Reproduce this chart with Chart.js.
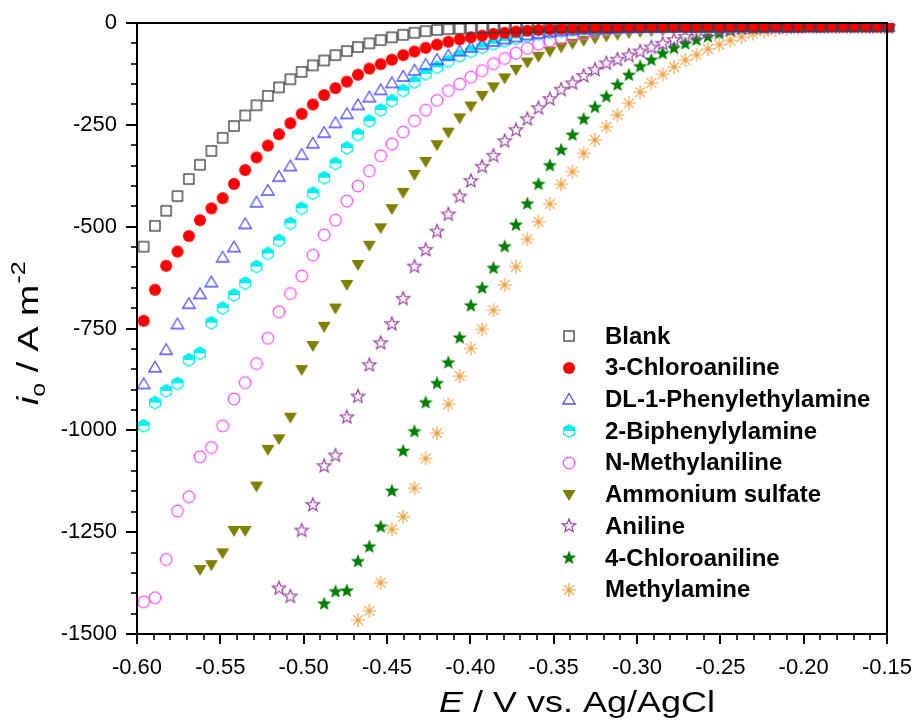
<!DOCTYPE html>
<html><head><meta charset="utf-8">
<script src="https://cdn.jsdelivr.net/npm/chart.js@4.4.1/dist/chart.umd.min.js"></script>
<style>html,body{margin:0;padding:0;background:#fff;}#wrap{width:914px;height:720px;}</style>
</head><body><div id="wrap"><canvas id="c" width="914" height="720"></canvas></div>
<script>
const E = [-0.5960,-0.5892,-0.5825,-0.5757,-0.5689,-0.5622,-0.5554,-0.5486,-0.5418,-0.5351,
-0.5283,-0.5215,-0.5148,-0.5080,-0.5012,-0.4945,-0.4877,-0.4809,-0.4741,-0.4674,
-0.4606,-0.4538,-0.4471,-0.4403,-0.4335,-0.4268,-0.4200,-0.4132,-0.4064,-0.3997,
-0.3929,-0.3861,-0.3794,-0.3726,-0.3658,-0.3591,-0.3523,-0.3455,-0.3387,-0.3320,
-0.3252,-0.3184,-0.3117,-0.3049,-0.2981,-0.2914,-0.2846,-0.2778,-0.2710,-0.2643,
-0.2575,-0.2507,-0.2440,-0.2372,-0.2304,-0.2237,-0.2169,-0.2101,-0.2033,-0.1966,
-0.1898,-0.1830,-0.1763,-0.1695,-0.1627,-0.1560,-0.1492];

const names = ["Blank","3-Chloroaniline","DL-1-Phenylethylamine","2-Biphenylylamine","N-Methylaniline","Ammonium sulfate","Aniline","4-Chloroaniline","Methylamine"];

const blank = [-549,-498,-461,-425,-383,-348,-314,-282,-253,-227,
-202,-179,-158,-138,-120,-104,-92,-79,-69,-59,
-50,-42,-35,-29,-24,-20,-17,-15,-14,-13,
-12,-12,-11,-11,-11,-10,-10,-10,-10,-10,
-10,-10,-10,-9,-9,-9,-9,-9,-9,-9,
-9,-9,-9,-8,-9,-9,-8,-9,-9,-8,
-9,-8,-8,-8,-8,-8,-8];
const chloro3 = [-731,-655,-596,-561,-523,-484,-455,-430,-395,-361,
-330,-301,-273,-246,-223,-200,-177,-160,-144,-127,
-112,-101,-90,-79,-70,-61,-53,-46,-40,-35,
-31,-27,-24,-21,-19,-17,-15,-14,-13,-12,
-11,-11,-10,-10,-10,-9,-9,-9,-9,-9,
-8,-9,-8,-8,-9,-8,-8,-8,-9,-8,
-8,-8,-8,-8,-8,-8,-8];
const phenylethyl = [-885,-844,-801,-738,-688,-664,-635,-574,-549,-492,
-439,-410,-376,-350,-322,-294,-268,-244,-222,-200,
-181,-163,-146,-130,-115,-101,-89,-78,-68,-59,
-51,-44,-38,-33,-28,-24,-21,-18,-16,-14,
-13,-12,-11,-11,-10,-10,-10,-9,-9,-9,
-9,-9,-8,-8,-8,-8,-8,-8,-8,-7,
-7,-7,-7,-7,-7,-7,-7];
const biphenyl = [-989,-932,-903,-885,-827,-811,-736,-700,-668,-639,
-598,-566,-534,-492,-455,-418,-380,-345,-307,-274,
-241,-214,-191,-166,-145,-125,-109,-94,-81,-70,
-60,-51,-44,-38,-32,-27,-23,-20,-17,-15,
-14,-13,-12,-11,-11,-10,-10,-10,-9,-9,
-9,-9,-9,-8,-8,-8,-8,-8,-8,-8,
-7,-7,-7,-7,-7,-7,-6];
const nmethyl = [-1421,-1411,-1317,-1198,-1163,-1065,-1042,-989,-923,-883,
-836,-774,-709,-664,-621,-570,-520,-484,-437,-400,
-363,-326,-297,-268,-240,-214,-190,-166,-150,-133,
-117,-100,-87,-74,-62,-52,-44,-37,-31,-26,
-21,-17,-14,-12,-11,-10,-10,-9,-9,-9,
-9,-8,-8,-8,-8,-8,-8,-8,-7,-7,
-7,-7,-7,-7,-7,-7,-7];
const ammonium = [null,null,null,null,null,-1343,-1331,-1302,-1247,-1247,
-1138,-1048,-1022,-969,-852,-793,-746,-701,-643,-594,
-547,-504,-457,-417,-373,-341,-300,-269,-234,-205,
-179,-158,-136,-115,-97,-83,-70,-60,-51,-44,
-38,-33,-29,-25,-22,-20,-18,-16,-15,-14,
-13,-12,-12,-11,-11,-10,-10,-10,-10,-9,
-9,-9,-9,-9,-9,-9,-9];
const aniline = [null,null,null,null,null,null,null,null,null,null,
null,null,-1388,-1408,-1246,-1183,-1088,-1062,-968,-917,
-840,-786,-739,-677,-598,-557,-512,-470,-426,-388,
-353,-326,-290,-263,-236,-209,-187,-164,-148,-130,
-115,-99,-90,-80,-70,-60,-51,-42,-34,-27,
-22,-18,-15,-13,-12,-11,-11,-10,-10,-10,
-10,-10,-10,-10,-10,-10,-10];
const chloro4 = [null,null,null,null,null,null,null,null,null,null,
null,null,null,null,null,null,-1426,-1396,-1394,-1322,
-1286,-1237,-1149,-1051,-1003,-932,-885,-834,-773,-694,
-651,-602,-549,-496,-444,-396,-350,-312,-275,-236,
-207,-181,-152,-128,-107,-91,-75,-62,-51,-42,
-34,-26,-19,-15,-13,-12,-11,-11,-10,-10,
-10,-10,-10,-10,-10,-10,-10];
const methylamine = [null,null,null,null,null,null,null,null,null,null,
null,null,null,null,null,null,null,null,null,-1466,
-1443,-1374,-1243,-1212,-1142,-1069,-1007,-936,-867,-799,
-752,-705,-643,-598,-531,-488,-444,-396,-365,-320,
-287,-255,-226,-197,-170,-147,-126,-108,-91,-78,
-64,-53,-43,-34,-26,-21,-17,-14,-12,-11,
-11,-10,-10,-10,-10,-10,-10];

const xTicks = [-0.60,-0.55,-0.50,-0.45,-0.40,-0.35,-0.30,-0.25,-0.20,-0.15];
const yTicks = [0,-250,-500,-750,-1000,-1250,-1500];

const colors = ['#3a3a3a','#ff0000','#4d4dff','#00f0f0','#ff50ff','#808000','#9c3fa6','#007f00','#f0a040'];

function mk(draw){ const s=18; const c=document.createElement('canvas'); c.width=s; c.height=s; const g=c.getContext('2d'); g.translate(s/2,s/2); draw(g); return c; }
function starPath(g,ro,ri){ g.beginPath(); for(let i=0;i<10;i++){ const r=i%2?ri:ro; const a=-Math.PI/2+i*Math.PI/5; const px=r*Math.cos(a), py=r*Math.sin(a); if(i) g.lineTo(px,py); else g.moveTo(px,py);} g.closePath(); }
function hexPath(g,r){ g.beginPath(); for(let i=0;i<6;i++){ const a=-Math.PI/2+i*Math.PI/3; const px=r*Math.cos(a), py=r*Math.sin(a); if(i) g.lineTo(px,py); else g.moveTo(px,py);} g.closePath(); }
const markers = [
 mk(g=>{ g.strokeStyle=colors[0]; g.lineWidth=1.3; g.strokeRect(-5,-5,10,10); }),
 mk(g=>{ g.fillStyle=colors[1]; g.beginPath(); g.arc(0,0,6,0,Math.PI*2); g.fill(); }),
 mk(g=>{ g.strokeStyle=colors[2]; g.lineWidth=1.3; g.beginPath(); g.moveTo(0,-5.5); g.lineTo(6.2,5); g.lineTo(-6.2,5); g.closePath(); g.stroke(); }),
 mk(g=>{ g.save(); g.beginPath(); g.rect(-9,-9,18,9); g.clip(); g.fillStyle=colors[3]; hexPath(g,6.5); g.fill(); g.restore(); g.strokeStyle=colors[3]; g.lineWidth=1.2; hexPath(g,6.2); g.stroke(); }),
 mk(g=>{ g.strokeStyle=colors[4]; g.lineWidth=1.3; g.beginPath(); g.arc(0,0,5.8,0,Math.PI*2); g.stroke(); }),
 mk(g=>{ g.fillStyle=colors[5]; g.beginPath(); g.moveTo(-6.5,-5); g.lineTo(6.5,-5); g.lineTo(0,6); g.closePath(); g.fill(); }),
 mk(g=>{ g.strokeStyle=colors[6]; g.lineWidth=1.2; starPath(g,7,3); g.stroke(); }),
 mk(g=>{ g.fillStyle=colors[7]; starPath(g,7.5,3.2); g.fill(); }),
 mk(g=>{ g.strokeStyle=colors[8]; g.lineWidth=1.2; g.beginPath(); for(let i=0;i<4;i++){ const a=i*Math.PI/4; g.moveTo(-7*Math.cos(a),-7*Math.sin(a)); g.lineTo(7*Math.cos(a),7*Math.sin(a)); } g.stroke(); g.fillStyle=colors[8]; g.beginPath(); g.arc(0,0,1.6,0,Math.PI*2); g.fill(); })
];

const allSeries = [blank,chloro3,phenylethyl,biphenyl,nmethyl,ammonium,aniline,chloro4,methylamine];
const datasets = allSeries.map((arr,i)=>({
  label: names[i],
  data: E.map((x,k)=>({x:x,y:arr[k]})).filter(p=>p.y!==null),
  pointStyle: markers[i], pointRadius: 6, showLine:false,
  borderColor: colors[i], backgroundColor: colors[i],
  clip: {left:10,top:0,right:10,bottom:10}
}));

const FONT = "'Liberation Sans', Arial, sans-serif";

const decor = {
  id:'decor',
  afterDraw(chart){
    const ctx=chart.ctx, a=chart.chartArea, xs=chart.scales.x, ys=chart.scales.y;
    ctx.save();
    ctx.strokeStyle='#000';
    for(let i=0;i<=45;i++){
      const v=-0.60+i*0.01; const px=Math.round(xs.getPixelForValue(v));
      const major=i%5===0; ctx.lineWidth=major?2:1.6;
      ctx.beginPath(); ctx.moveTo(px,a.bottom); ctx.lineTo(px,a.bottom+(major?10:6)); ctx.stroke();
    }
    for(let i=0;i<=30;i++){
      const v=-i*50; const py=Math.round(ys.getPixelForValue(v));
      const major=i%5===0; ctx.lineWidth=major?2:1.6;
      ctx.beginPath(); ctx.moveTo(a.left,py); ctx.lineTo(a.left-(major?11:6),py); ctx.stroke();
    }
    ctx.lineWidth=2;
    ctx.strokeRect(a.left,a.top,a.right-a.left,a.bottom-a.top);
    ctx.font="bold 24px "+FONT; ctx.fillStyle='#000'; ctx.textBaseline='middle'; ctx.textAlign='left';
    names.forEach((n,i)=>{
      const yc=336+i*31.7;
      ctx.drawImage(markers[i],569-9,Math.round(yc)-9);
      ctx.fillText(n,605,yc+1);
    });
    ctx.textBaseline='alphabetic';
    ctx.save();
    ctx.translate(439,712); ctx.scale(1.2,1);
    let x=0;
    ctx.font="italic 30px "+FONT; ctx.fillText('E',x,0); x+=ctx.measureText('E').width;
    ctx.font="30px "+FONT; ctx.fillText(' / V vs. Ag/AgCl',x,0);
    ctx.restore();
    ctx.save();
    ctx.translate(38,405); ctx.rotate(-Math.PI/2); ctx.scale(1.25,1);
    let t=0;
    ctx.font="italic 30px "+FONT; ctx.fillText('i',t,0); t+=ctx.measureText('i').width;
    ctx.font="20px "+FONT; ctx.fillText('o',t,7); t+=ctx.measureText('o').width;
    ctx.font="30px "+FONT; ctx.fillText(' / A m',t,0); t+=ctx.measureText(' / A m').width;
    ctx.font="20px "+FONT; ctx.fillText('-2',t+1,-13);
    ctx.restore();
    ctx.restore();
  }
};

new Chart(document.getElementById('c'),{
  type:'scatter',
  data:{datasets},
  options:{
    responsive:false, animation:false, devicePixelRatio:1,
    layout:{padding:{left:0,top:23,right:27,bottom:0}},
    plugins:{legend:{display:false},tooltip:{enabled:false}},
    scales:{
      x:{type:'linear',min:-0.60,max:-0.15,
        afterBuildTicks:s=>{s.ticks=xTicks.map(v=>({value:v}));},
        afterFit:s=>{s.height=86; s.paddingLeft=0; s.paddingRight=0;},
        grid:{display:false,drawTicks:false},border:{display:false},
        ticks:{padding:21,color:'#000',font:{family:FONT,size:22},maxRotation:0,autoSkip:false,callback:v=>v.toFixed(2)}
      },
      y:{type:'linear',min:-1500,max:0,
        afterBuildTicks:s=>{s.ticks=yTicks.map(v=>({value:v}));},
        afterFit:s=>{s.width=137; s.paddingTop=0; s.paddingBottom=0;},
        grid:{display:false,drawTicks:false},border:{display:false},
        ticks:{padding:20,color:'#000',font:{family:FONT,size:22},autoSkip:false,callback:v=>String(v)}
      }
    }
  },
  plugins:[decor]
});
</script></body></html>
